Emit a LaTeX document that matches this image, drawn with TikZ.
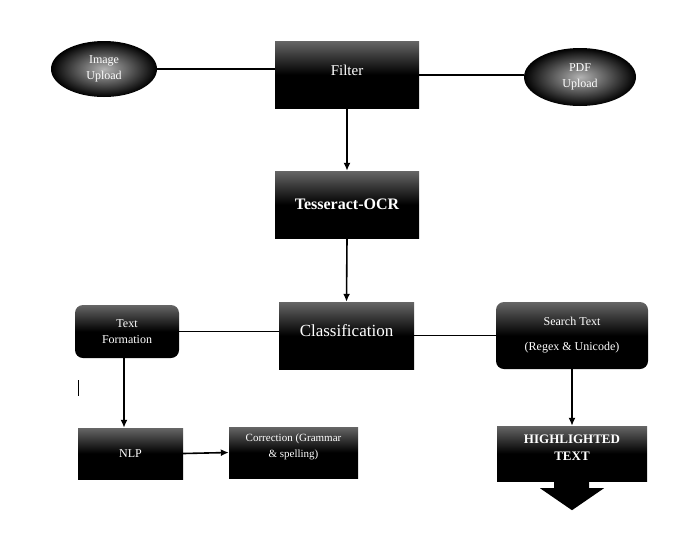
\documentclass[tikz,border=0pt]{standalone}
\usepackage{fontspec}
\setmainfont{Liberation Serif}
\usetikzlibrary{arrows.meta,positioning,shapes.geometric}

\begin{document}
\begin{tikzpicture}
                    [x=1pt, y=-1pt, every node/.style={text=white, inner sep=0pt}]
                    \tikzset{edge/.style = {line width=1.6pt, -, > = {Latex[length=8pt,width=7pt]}},
                             arr/.style = {edge, ->},
                             blk/.style = {rectangle, top color=black!60, bottom color=black, middle color=black, align=center},
                             rblk/.style = {blk, rounded corners=8pt},
                             oval/.style = {ellipse, inner color=black!30, outer color=black, align=center, font=\fontsize{12}{16}\selectfont}}
                    \useasboundingbox (0,0) rectangle (690,539);

                    \node[oval, minimum width=106pt, minimum height=56pt] (img) at (104,69)  {Image\\Upload};
                    \node[oval, minimum width=112pt, minimum height=58pt] (pdf) at (580,77)  {PDF\\Upload};
                    \node[blk, minimum width=144pt, minimum height=67pt] (filt) at (347,74.5) {};
                    \node[font=\fontsize{15}{16}\selectfont] (filttxt) at (347,70) {Filter};
                    \node[blk, minimum width=144pt, minimum height=67pt, font=\fontsize{16}{17}\selectfont\bfseries] (ocr) at (347,204.5) {Tesseract-OCR};
                    \node[blk, minimum width=135pt, minimum height=67pt] (cls) at (346.5,335.5) {};
                    \node[font=\fontsize{17}{18}\selectfont] (clstxt) at (346.5,331) {Classification};
                    \node[rblk, minimum width=104pt, minimum height=53pt, font=\fontsize{12}{16}\selectfont] (tform) at (127,331.5) {Text\\Formation};
                    \node[rblk, minimum width=152pt, minimum height=67pt, font=\fontsize{12}{13}\selectfont] (srch) at (572,335.5) {Search Text\\[12pt](Regex \& Unicode)};
                    \node[blk, minimum width=150pt, minimum height=55pt] (hl) at (572,453.5) {};
                    \node[align=center, font=\fontsize{13}{17}\selectfont\bfseries] (hltxt) at (572,448) {HIGHLIGHTED\\TEXT};
                    \node[blk, minimum width=105pt, minimum height=51pt, font=\fontsize{12}{13}\selectfont] (nlp) at (130.5,453.5) {NLP};
                    \node[blk, minimum width=129pt, minimum height=51pt] (corr) at (293.5,452.5) {};
                    \node[align=center, font=\fontsize{11}{16}\selectfont, below=7pt of corr.north] (corrtxt) {Correction (Grammar\\\& spelling)};

                    % plain joins
                    \draw[edge] (img.east) -- (filt.west |- img.east);
                    \draw[edge] (filt.east |- 0,75) -- (pdf.west |- 0,75);
                    \draw[edge] (tform.east) -- (cls.west |- tform.east);
                    \draw[edge] (cls.east) -- (srch.west |- cls.east);

                    \foreach \from/\to in {filt/ocr,ocr/cls}
                        \draw[arr] (\from.south) to (\to.north);
                    \draw[arr] (srch.south -| hl.north) -- (hl.north);
                    \draw[arr] (124,358) -- (nlp.north -| 124,0);
                    \draw[arr] (nlp.east) -- (corr.west);

                    % arrow under the last box
                    \fill[black] ([xshift=-18pt]hl.south) -- ([xshift=17pt]hl.south) -- ++(0,7) -- ++(15,0)
                                 -- ([yshift=-29pt]hl.south) -- ([xshift=-32pt,yshift=-7pt]hl.south) -- ++(14,0) -- cycle;

                    \draw[line width=1pt] (78,380) -- (78,396);
                \end{tikzpicture}
\end{document}
